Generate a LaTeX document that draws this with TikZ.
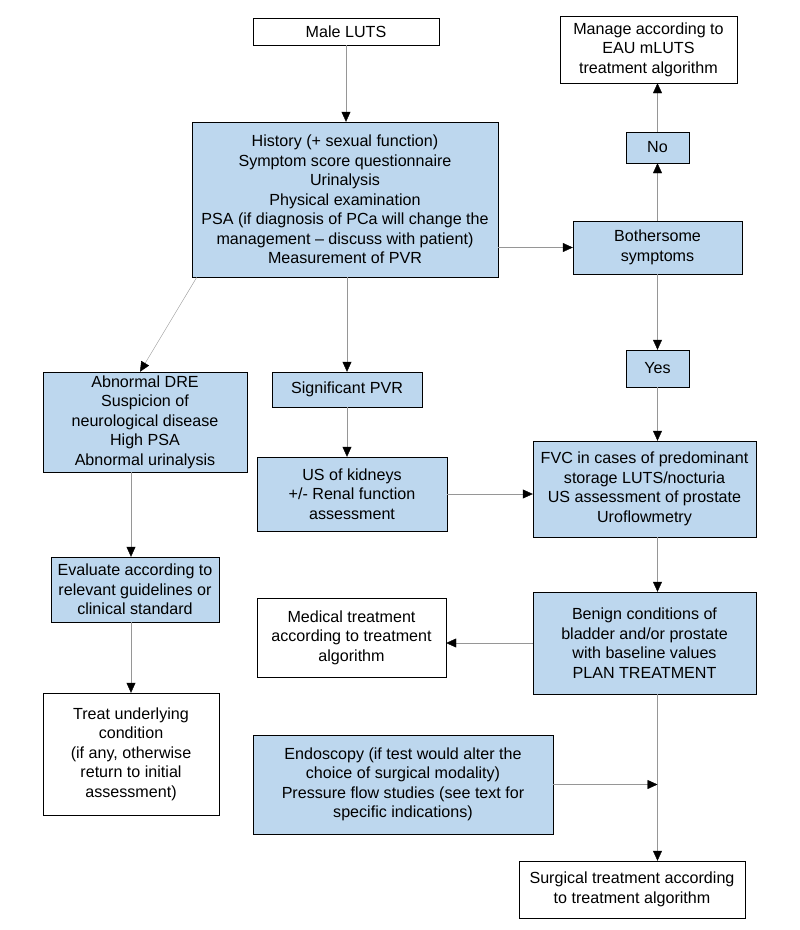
\documentclass[tikz,border=0pt]{standalone}
\usepackage{fontspec}
\setmainfont{Liberation Sans}
\usetikzlibrary{arrows.meta}
\definecolor{boxblue}{RGB}{189,215,238}
\definecolor{linegray}{RGB}{150,150,150}
\tikzset{
    bluebox/.style={draw=black,fill=boxblue,align=center,inner sep=0pt,font=\fontsize{16.1}{19.5}\selectfont},
    whitebox/.style={draw=black,fill=white,align=center,inner sep=0pt,font=\fontsize{16.1}{19.5}\selectfont},
    arr/.style={draw=linegray,-{Triangle[black,length=10pt,width=9pt]}}
}
\begin{document}
\begin{tikzpicture}[x=1pt,y=-1pt]
        \useasboundingbox (0,0) rectangle (800,930);
        %% left and middle column
        \node[whitebox,minimum width=186,minimum height=27] (male) at (346,31.5) {Male LUTS};
        \node[bluebox,minimum width=306,minimum height=155] (hist) at (345,199.5) {History (+ sexual function)\\Symptom score questionnaire\\Urinalysis\\Physical examination\\PSA (if diagnosis of PCa will change the\\management -- discuss with patient)\\Measurement of PVR};
        \node[bluebox,minimum width=204,minimum height=100] (dre) at (145,422) {Abnormal DRE\\Suspicion of\\neurological disease\\High PSA\\Abnormal urinalysis};
        \node[bluebox,minimum width=150,minimum height=35] (spvr) at (347,389.5) {Significant PVR};
        \node[bluebox,minimum width=190,minimum height=74] (usk) at (352,494) {US of kidneys\\+/- Renal function\\assessment};
        \node[bluebox,minimum width=168,minimum height=65] (eval) at (135,589.5) {Evaluate according to\\relevant guidelines or\\clinical standard};
        \node[whitebox,minimum width=176,minimum height=122] (treat) at (131,754) {Treat underlying\\condition\\(if any, otherwise\\return to initial\\assessment)};
        \node[whitebox,minimum width=189,minimum height=79] (med) at (351.5,637.5) {Medical treatment\\according to treatment\\algorithm};
        \node[bluebox,minimum width=300,minimum height=99] (endo) at (403,784.5) {Endoscopy (if test would alter the\\choice of surgical modality)\\Pressure flow studies (see text for\\specific indications)};
        %% right column
        \node[whitebox,minimum width=177,minimum height=67] (manage) at (648.5,49.5) {Manage according to\\EAU mLUTS\\treatment algorithm};
        \node[bluebox,minimum width=63,minimum height=31] (no) at (657.5,147.5) {No};
        \node[bluebox,minimum width=169,minimum height=53] (both) at (657.5,247.5) {Bothersome\\symptoms};
        \node[bluebox,minimum width=63,minimum height=37] (yes) at (657.5,368.5) {Yes};
        \node[bluebox,minimum width=223,minimum height=96] (fvc) at (644.5,489) {FVC in cases of predominant\\storage LUTS/nocturia\\US assessment of prostate\\Uroflowmetry};
        \node[bluebox,minimum width=223,minimum height=102] (benign) at (644.5,643) {Benign conditions of\\bladder and/or prostate\\with baseline values\\PLAN TREATMENT};
        \node[whitebox,minimum width=226,minimum height=57] (surg) at (632,889.5) {Surgical treatment according\\to treatment algorithm};
        %% connectors
        \draw[arr] (male.south) -- (male.south |- hist.north);
        \draw[arr] ([xshift=5]hist.south west) -- ([xshift=-5]dre.north);
        \draw[arr] (hist.south -| spvr) -- (spvr.north);
        \draw[arr] (spvr.south) -- (spvr.south |- usk.north);
        \draw[arr] (hist.east |- both) -- (both.west);
        \draw[arr] (both.north) -- (no.south);
        \draw[arr] (no.north) -- (no.north |- manage.south);
        \draw[arr] (both.south) -- (yes.north);
        \draw[arr] (yes.south) -- (yes.south |- fvc.north);
        \draw[arr] (usk.east) -- (usk.east -| fvc.west);
        \draw[arr] (fvc.south -| yes) -- (benign.north -| yes);
        \draw[arr] (benign.west) -- (benign.west -| med.east);
        \draw[arr] (benign.south -| yes) -- (surg.north -| yes);
        \draw[arr] (endo.east) -- (endo.east -| yes);
        \draw[arr] (dre.south -| treat) -- (eval.north -| treat);
        \draw[arr] (eval.south -| treat) -- (treat.north);
    \end{tikzpicture}
\end{document}
